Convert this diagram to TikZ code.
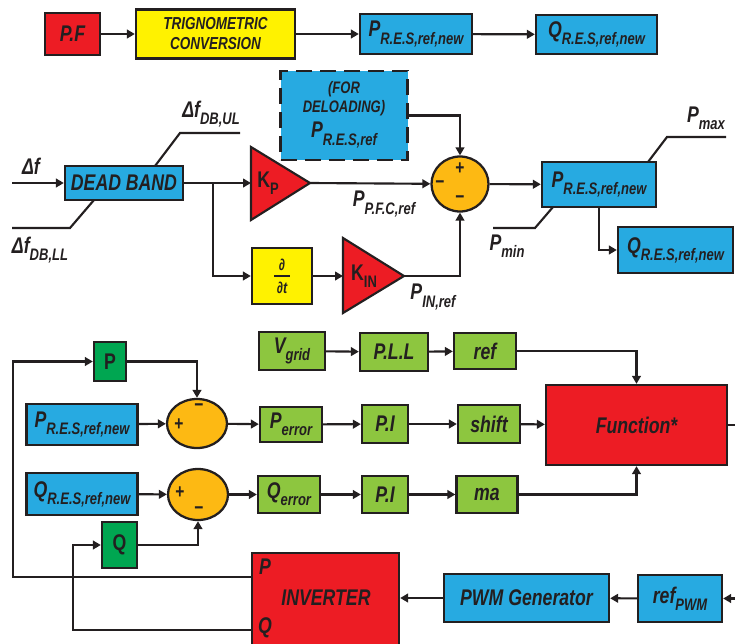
\documentclass[tikz,border=0pt]{standalone}
\usepackage{fontspec}
\usepackage{graphicx}
\newfontfamily\lab{Liberation Sans}[FakeStretch=0.78]
\usetikzlibrary{shapes.geometric,arrows.meta}
\definecolor{cblue}{RGB}{39,170,225}
\definecolor{cred}{RGB}{237,28,36}
\definecolor{cyel}{RGB}{255,242,0}
\definecolor{corg}{RGB}{253,185,19}
\definecolor{lgreen}{RGB}{141,198,63}
\definecolor{dgreen}{RGB}{0,166,81}
\definecolor{ink}{RGB}{35,31,32}
\newcommand\sbs[1]{\raisebox{-0.32em}{\fontsize{12.5}{13}\selectfont #1}}
\tikzset{
  base/.style={inner sep=0pt, text=ink, font=\lab\bfseries\itshape\fontsize{17}{18}\selectfont},
  box/.style={base, draw=ink, line width=1.7pt},
  sz/.style 2 args={minimum width=#1*0.75pt, minimum height=#2*0.75pt},
  bluebox/.style={box, fill=cblue},
  redbox/.style={box, fill=cred},
  yelbox/.style={box, fill=cyel},
  lgbox/.style={box, fill=lgreen},
  dgbox/.style={box, fill=dgreen},
  sumnode/.style={box, ellipse, fill=corg},
  sign/.style={base, font=\lab\bfseries\fontsize{15}{15}\selectfont},
  lbl/.style={base},
  ln/.style={draw=ink, line width=1.6pt},
  arr/.style={ln, -{Triangle[length=6pt,width=6.5pt]}},
  tri/.style={draw=ink, line width=1.6pt, fill=cred, line join=miter},
}
\begin{document}
\begin{tikzpicture}[x=0.75pt,y=-0.75pt]
\useasboundingbox (0,0) rectangle (735,643);
\clip (0,0) rectangle (735,643);
% ---------- top row
\node[redbox, sz={55}{42}] (pf) at (72.5,34) {P.F};
\node[yelbox, sz={159}{49}, align=center, font=\lab\bfseries\itshape\fontsize{13}{15}\selectfont] (trig) at (215.5,34) {TRIGNOMETRIC\\CONVERSION};
\node[bluebox, sz={112}{40}] (pn1) at (416,34) {P\sbs{R.E.S,ref,new}};
\node[bluebox, sz={121}{39}] (qn1) at (596.5,34.5) {Q\sbs{R.E.S,ref,new}};
\draw[arr] (pf) -- (trig);
\draw[arr] (trig) -- (pn1);
\draw[arr] (pn1) -- (qn1);
% ---------- frequency part
\node[bluebox, dash pattern=on 12pt off 6pt, sz={127}{89}] (del) at (344,115.5) {};
\node[lbl, font=\lab\bfseries\itshape\fontsize{12.5}{13}\selectfont] (delA) at (344,89) {(FOR};
\node[lbl, font=\lab\bfseries\itshape\fontsize{12.5}{13}\selectfont] (delB) at (344,108) {DELOADING)};
\node[lbl] (delC) at (344,135) {P\sbs{R.E.S,ref}};
\node[sumnode, sz={57}{55}] (s1) at (460,184) {};
\node[sign] (s1a) at (460,169) {+};
\node[sign] (s1b) at (440,185) {−};
\node[sign] (s1c) at (460,200) {−};
\node[bluebox, sz={118}{34}] (db) at (124,183) {DEAD BAND};
\coordinate (dfin) at (12,183);
\node[lbl] (df) at (31,166) {Δf};
\draw[arr] (dfin) -- (db);
\coordinate (ul1) at (240,133);
\coordinate (ul2) at (180,133);
\coordinate (ul3) at (155,166);
\draw[ln] (ul1) -- (ul2) -- (ul3);
\node[lbl] (dful) at (211,114) {Δf\sbs{DB,UL}};
\coordinate (ll1) at (12,228);
\coordinate (ll2) at (70,228);
\coordinate (ll3) at (94,200);
\draw[ln] (ll1) -- (ll2) -- (ll3);
\node[lbl] (dfll) at (40,250) {Δf\sbs{DB,LL}};
% Kp triangle
\coordinate (kpT) at (251,147);
\coordinate (kpB) at (251,220);
\coordinate (kpO) at (310,183);
\coordinate (kpI) at (251,183);
\filldraw[tri] (kpT) -- (kpO) -- (kpB) -- cycle;
\node[base, font=\lab\bfseries\fontsize{17}{18}\selectfont] (kp) at (268,183) {K\sbs{P}};
% KIN triangle
\coordinate (kiT) at (343,238);
\coordinate (kiB) at (343,313);
\coordinate (kiO) at (404,276);
\coordinate (kiI) at (343,276);
\filldraw[tri] (kiT) -- (kiO) -- (kiB) -- cycle;
\node[base, font=\lab\bfseries\fontsize{17}{18}\selectfont] (ki) at (364,276) {K\sbs{IN}};
% d/dt
\node[yelbox, sz={60}{56}] (ddt) at (282,276) {};
\node[base, font=\lab\bfseries\itshape\fontsize{12}{12}\selectfont] (ddtA) at (282,265) {∂};
\node[base, font=\lab\bfseries\itshape\fontsize{12}{12}\selectfont] (ddtB) at (282,288) {∂t};
\coordinate (fr1) at (274,276);
\coordinate (fr2) at (290,276);
\draw[draw=ink, line width=0.8pt] (fr1) -- (fr2);
\coordinate (br) at (213,183);
\draw[arr] (db) -- (kpI);
\draw[arr] (br) |- (ddt);
\draw[arr] (ddt) -- (kiI);
\draw[arr] (kpO) -- (s1);
\draw[arr] (kiO) -| (s1);
\draw[arr] (del.east) -| (s1);
\node[lbl] (ppfc) at (384,204) {P\sbs{P.F.C,ref}};
\node[lbl] (pinref) at (433,297) {P\sbs{IN,ref}};
% right
\node[bluebox, sz={114}{45}] (pn2) at (599,184.5) {P\sbs{R.E.S,ref,new}};
\node[bluebox, sz={115}{46}] (qn2) at (675.5,250) {Q\sbs{R.E.S,ref,new}};
\draw[arr] (s1) -- (pn2);
\draw[arr] (pn2.south) |- (qn2);
\coordinate (mx1) at (648,162);
\coordinate (mx2) at (667,137);
\coordinate (mx3) at (726,137);
\draw[ln] (mx1) -- (mx2) -- (mx3);
\node[lbl] (pmax) at (706,118) {P\sbs{max}};
\coordinate (mn1) at (553,207);
\coordinate (mn2) at (535,228);
\coordinate (mn3) at (493,228);
\draw[ln] (mn1) -- (mn2) -- (mn3);
\node[lbl] (pmin) at (507,246) {P\sbs{min}};
% ---------- bottom part
\node[lgbox, sz={66}{38}] (vg) at (292,351) {V\sbs{grid}};
\node[lgbox, sz={68}{38}] (pll) at (394,352) {P.L.L};
\node[lgbox, sz={62}{36}] (rf) at (485,351) {ref};
\node[dgbox, font=\lab\bfseries\fontsize{17}{18}\selectfont, sz={32}{39}] (pb) at (110,361.5) {P};
\node[bluebox, sz={111}{41}] (pn3) at (82,424.5) {P\sbs{R.E.S,ref,new}};
\node[sumnode, sz={60}{49}] (s2) at (197,423.5) {};
\node[sign] (s2a) at (179,425) {+};
\node[sign] (s2b) at (199,408) {−};
\node[lgbox, sz={62}{35}] (pe) at (291,424.5) {P\sbs{error}};
\node[lgbox, sz={46}{38}] (pi1) at (385,424) {P.I};
\node[lgbox, sz={62}{38}] (sh) at (489,424) {shift};
\node[redbox, sz={181}{80}] (fn) at (636.5,425) {Function*};
\node[bluebox, sz={111}{42}] (qn3) at (82,494) {Q\sbs{R.E.S,ref,new}};
\node[sumnode, sz={60}{51}] (s3) at (198,494.5) {};
\node[sign] (s3a) at (180,493) {+};
\node[sign] (s3b) at (199,511) {−};
\node[lgbox, sz={62}{37}] (qe) at (289,494.5) {Q\sbs{error}};
\node[lgbox, sz={46}{37}] (pi2) at (385,494.5) {P.I};
\node[lgbox, sz={61}{37}] (ma) at (487,494.5) {ma};
\node[dgbox, font=\lab\bfseries\fontsize{17}{18}\selectfont, sz={35}{46}] (qb) at (119.5,545) {Q};
\node[redbox, sz={147}{100}] (inv) at (325.5,603) {};
\node[lbl] (invT) at (326,598) {INVERTER};
\node[lbl] (invP) at (265,567) {P};
\node[lbl] (invQ) at (265,628) {Q};
\node[bluebox, sz={165}{48}] (pwm) at (526.5,598) {PWM Generator};
\node[bluebox, sz={84}{47}] (rpwm) at (680,598.5) {ref\sbs{PWM}};
\draw[arr] (vg) -- (pll);
\draw[arr] (pll) -- (rf);
\draw[arr] (rf) -| (fn);
\draw[arr] (pn3) -- (s2);
\draw[arr] (s2) -- (pe);
\draw[arr] (pe) -- (pi1);
\draw[arr] (pi1) -- (sh);
\draw[arr] (sh) -- (fn);
\draw[arr] (qn3) -- (s3);
\draw[arr] (s3) -- (qe);
\draw[arr] (qe) -- (pi2);
\draw[arr] (pi2) -- (ma);
\draw[arr] (ma) -| (fn);
\draw[arr] (pb) -| (s2);
\draw[arr] (qb) -| (s3);
\coordinate (ip) at (252,577);
\coordinate (fb1) at (13,577);
\coordinate (iq) at (252,630);
\coordinate (fb2) at (73,630);
\draw[arr] (ip) -- (fb1) |- (pb);
\draw[arr] (iq) -- (fb2) |- (qb);
\coordinate (fnout) at (736,425);
\draw[ln] (fn) -- (fnout);
\coordinate (pwmin) at (736,598.5);
\draw[arr] (pwmin) -- (rpwm);
\draw[arr] (rpwm) -- (pwm);
\draw[arr] (pwm) -- (inv.east |- pwm);
\end{tikzpicture}
\end{document}
